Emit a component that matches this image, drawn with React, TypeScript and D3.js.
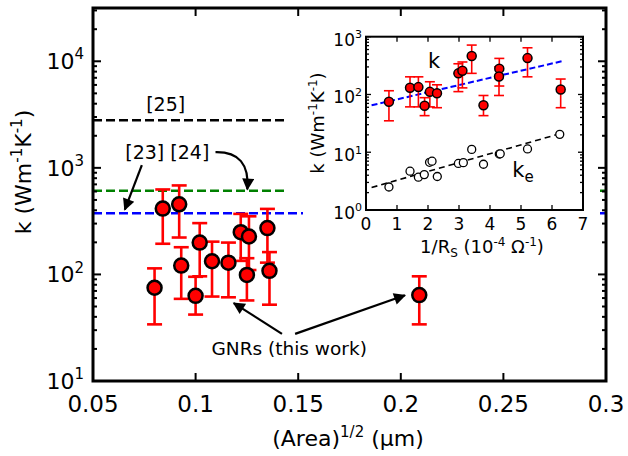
import * as d3 from "d3";
import { useEffect, useRef } from "react";

// main panel: k against sqrt(area)
const areaRoot = [0.080, 0.084, 0.092, 0.093, 0.100, 0.102, 0.108, 0.116, 0.122, 0.126, 0.125, 0.135, 0.136, 0.209];
const kMain = [75, 415, 455, 121, 63, 199, 133, 129, 249, 227, 99, 272, 108, 64];
const kMainHi = [114, 627, 684, 180, 95, 303, 203, 199, 370, 351, 142, 412, 162, 96];
const kMainLo = [34, 194, 222, 59, 42, 96, 62, 61, 134, 110, 57, 129, 52, 34];

// literature values (dashed lines)
const refValues = [2800, 610, 375];
const refEnd = [0.145, 0.3, 0.3];

const xTicks = [0.05, 0.1, 0.15, 0.2, 0.25, 0.3];
const xTickLabels = ["0.05", "0.1", "0.15", "0.2", "0.25", "0.3"];
const yDecades = [1, 2, 3, 4];

// inset: k and k_e against 1/Rs
const invRs = [0.74, 1.42, 1.69, 1.89, 2.06, 2.29, 2.98, 3.11, 3.41, 3.79, 4.30, 4.29, 5.21, 6.28];
const kInset = [75, 131, 134, 64, 111, 105, 232, 257, 462, 65, 280, 205, 426, 122];
const kInsetHi = [116, 202, 202, 88, 166, 147, 340, 365, 716, 96, 421, 300, 643, 185];
const kInsetLo = [35, 61, 61, 43, 61, 59, 112, 130, 232, 43, 140, 96, 202, 59];

const invRsE = [0.74, 1.42, 1.69, 1.88, 2.05, 2.13, 2.30, 2.98, 3.14, 3.41, 3.79, 4.30, 4.33, 5.21, 6.25];
const kElec = [2.5, 4.7, 3.7, 4.1, 6.7, 7.0, 3.8, 6.4, 6.6, 11.2, 6.2, 9.3, 9.4, 11.4, 20.4];

const fitX = [0.18, 6.4];
const fitK = [65, 385];
const fitXe = [0.18, 6.2];
const fitKe = [2.45, 20.5];

const insetXTicks = [0, 1, 2, 3, 4, 5, 6, 7];
const insetDecades = [0, 1, 2, 3];

const FONT = "DejaVu Sans, Verdana, sans-serif";

function powLabel(g, x, y, exp, size, supSize, anchor) {
	const t = g.append("text")
		.attr("x", x)
		.attr("y", y)
		.attr("text-anchor", anchor)
		.style("font-size", size + "px");
	t.append("tspan").text("10");
	t.append("tspan").attr("dy", -size * 0.45).style("font-size", supSize + "px").text(exp);
	return t;
}

const App = () => {
	const ref = useRef(null);

	useEffect(() => {
		const svg = d3.select(ref.current);
		svg.selectAll("*").remove();
		svg.style("font-family", FONT);

		const x = d3.scaleLinear().domain([0.05, 0.3]).range([93, 606]);
		const y = d3.scaleLog().domain([10, Math.pow(10, 4.5)]).range([381, 8]);

		const defs = svg.append("defs");
		defs.append("marker")
			.attr("id", "ah")
			.attr("viewBox", "0 0 10 10")
			.attr("refX", 9)
			.attr("refY", 5)
			.attr("markerUnits", "userSpaceOnUse")
			.attr("markerWidth", 15)
			.attr("markerHeight", 12)
			.attr("orient", "auto")
			.append("path")
			.attr("d", "M0,0 L10,5 L0,10 z")
			.attr("fill", "#000");

		// dashed reference lines
		const refColors = ["#000000", "#008000", "#0000ff"];
		refValues.forEach((v, i) => {
			svg.append("line")
				.attr("x1", x(0.05)).attr("x2", x(refEnd[i]))
				.attr("y1", y(v)).attr("y2", y(v))
				.attr("stroke", refColors[i])
				.attr("stroke-width", 2.5)
				.attr("stroke-dasharray", "9,4");
		});

		// ---------------- inset ----------------
		const ix = d3.scaleLinear().domain([0, 7]).range([366, 583]);
		const iy = d3.scaleLog().domain([1, 1000]).range([210, 36.7]);

		svg.append("path")
			.attr("d", "M288,18 L596,18 L596,262 L303,262 L303,203 L288,203 Z")
			.attr("fill", "#fff");

		// fits
		svg.append("line")
			.attr("x1", ix(fitXe[0])).attr("y1", iy(fitKe[0]))
			.attr("x2", ix(fitXe[1])).attr("y2", iy(fitKe[1]))
			.attr("stroke", "#000").attr("stroke-width", 1.6)
			.attr("stroke-dasharray", "6,4");
		svg.append("line")
			.attr("x1", ix(fitX[0])).attr("y1", iy(fitK[0]))
			.attr("x2", ix(fitX[1])).attr("y2", iy(fitK[1]))
			.attr("stroke", "#0000ff").attr("stroke-width", 2)
			.attr("stroke-dasharray", "6,3");

		// k_e open circles
		svg.selectAll(".ke")
			.data(invRsE)
			.enter()
			.append("circle")
			.attr("cx", d => ix(d))
			.attr("cy", (d, i) => iy(kElec[i]))
			.attr("r", 4)
			.attr("fill", "#fff")
			.attr("stroke", "#000")
			.attr("stroke-width", 1.3);

		// k error bars
		const ieb = svg.append("g").attr("stroke", "#ff0000").attr("stroke-width", 1.6);
		invRs.forEach((d, i) => {
			const cx = ix(d);
			ieb.append("line").attr("x1", cx).attr("x2", cx).attr("y1", iy(kInsetLo[i])).attr("y2", iy(kInsetHi[i]));
			ieb.append("line").attr("x1", cx - 5).attr("x2", cx + 5).attr("y1", iy(kInsetLo[i])).attr("y2", iy(kInsetLo[i]));
			ieb.append("line").attr("x1", cx - 5).attr("x2", cx + 5).attr("y1", iy(kInsetHi[i])).attr("y2", iy(kInsetHi[i]));
		});
		svg.selectAll(".kin")
			.data(invRs)
			.enter()
			.append("circle")
			.attr("cx", d => ix(d))
			.attr("cy", (d, i) => iy(kInset[i]))
			.attr("r", 4.5)
			.attr("fill", "#ff0000")
			.attr("stroke", "#000")
			.attr("stroke-width", 1.5);

		// inset frame and ticks
		const ig = svg.append("g").attr("stroke", "#000").attr("stroke-width", 1.3);
		insetXTicks.slice(1, -1).forEach(t => {
			ig.append("line").attr("x1", ix(t)).attr("x2", ix(t)).attr("y1", 210).attr("y2", 205);
			ig.append("line").attr("x1", ix(t)).attr("x2", ix(t)).attr("y1", 36.7).attr("y2", 41.7);
		});
		iy.ticks().forEach(t => {
			const major = Math.abs(Math.log10(t) - Math.round(Math.log10(t))) < 1e-6;
			const len = major ? 5 : 3;
			ig.append("line").attr("x1", 366).attr("x2", 366 + len).attr("y1", iy(t)).attr("y2", iy(t));
			ig.append("line").attr("x1", 583).attr("x2", 583 - len).attr("y1", iy(t)).attr("y2", iy(t));
		});
		svg.append("rect")
			.attr("x", 366).attr("y", 36.7)
			.attr("width", 583 - 366).attr("height", 210 - 36.7)
			.attr("fill", "none").attr("stroke", "#000").attr("stroke-width", 2);

		insetXTicks.forEach(t => {
			svg.append("text")
				.attr("x", ix(t)).attr("y", 230)
				.attr("text-anchor", "middle")
				.style("font-size", "17px")
				.text(t);
		});
		insetDecades.forEach(e => {
			powLabel(svg, 362, iy(Math.pow(10, e)) + 9, String(e), 17, 11, "end");
		});

		const iyl = svg.append("text")
			.attr("transform", "translate(324,123) rotate(-90)")
			.attr("text-anchor", "middle")
			.style("font-size", "18px");
		iyl.append("tspan").text("k (Wm");
		iyl.append("tspan").attr("dy", -7).style("font-size", "12px").text("-1");
		iyl.append("tspan").attr("dy", 7).text("K");
		iyl.append("tspan").attr("dy", -7).style("font-size", "12px").text("-1");
		iyl.append("tspan").attr("dy", 7).text(")");

		const ixl = svg.append("text")
			.attr("x", 482).attr("y", 253)
			.attr("text-anchor", "middle")
			.style("font-size", "18px");
		ixl.append("tspan").text("1/R");
		ixl.append("tspan").attr("dy", 4).style("font-size", "12px").text("S");
		ixl.append("tspan").attr("dy", -4).text(" (10");
		ixl.append("tspan").attr("dy", -7).style("font-size", "12px").text("-4");
		ixl.append("tspan").attr("dy", 7).text(" \u03A9");
		ixl.append("tspan").attr("dy", -7).style("font-size", "12px").text("-1");
		ixl.append("tspan").attr("dy", 7).text(")");

		svg.append("text")
			.attr("x", ix(2.0)).attr("y", iy(290))
			.style("font-size", "21px")
			.text("k");
		const kel = svg.append("text")
			.attr("x", ix(4.72)).attr("y", iy(3.7))
			.style("font-size", "21px");
		kel.append("tspan").text("k");
		kel.append("tspan").attr("dy", 5).style("font-size", "15px").text("e");

		// ---------------- main data ----------------
		const eb = svg.append("g").attr("stroke", "#ff0000").attr("stroke-width", 2.6);
		areaRoot.forEach((d, i) => {
			const cx = x(d);
			eb.append("line").attr("x1", cx).attr("x2", cx).attr("y1", y(kMainLo[i])).attr("y2", y(kMainHi[i]));
			eb.append("line").attr("x1", cx - 7.5).attr("x2", cx + 7.5).attr("y1", y(kMainLo[i])).attr("y2", y(kMainLo[i]));
			eb.append("line").attr("x1", cx - 7.5).attr("x2", cx + 7.5).attr("y1", y(kMainHi[i])).attr("y2", y(kMainHi[i]));
		});
		svg.selectAll(".kmain")
			.data(areaRoot)
			.enter()
			.append("circle")
			.attr("cx", d => x(d))
			.attr("cy", (d, i) => y(kMain[i]))
			.attr("r", 7)
			.attr("fill", "#ff0000")
			.attr("stroke", "#000")
			.attr("stroke-width", 2.5);

		// annotations
		svg.append("text")
			.attr("x", x(0.0854)).attr("y", y(3430))
			.attr("text-anchor", "middle")
			.style("font-size", "19px")
			.text("[25]");
		svg.append("text")
			.attr("x", x(0.0862)).attr("y", y(1205))
			.attr("text-anchor", "middle")
			.style("font-size", "19px")
			.text("[23] [24]");
		svg.append("line")
			.attr("x1", x(0.0738)).attr("y1", y(1059))
			.attr("x2", x(0.0655)).attr("y2", y(405))
			.attr("stroke", "#000").attr("stroke-width", 2.2)
			.attr("marker-end", "url(#ah)");
		svg.append("path")
			.attr("d", `M${x(0.1097)},${y(1403)} Q${x(0.1267)},${y(1425)} ${x(0.1252)},${y(628)}`)
			.attr("fill", "none")
			.attr("stroke", "#000").attr("stroke-width", 2.2)
			.attr("marker-end", "url(#ah)");

		svg.append("text")
			.attr("x", x(0.1456)).attr("y", y(17.6))
			.attr("text-anchor", "middle")
			.style("font-size", "18.5px")
			.text("GNRs (this work)");
		svg.append("line")
			.attr("x1", x(0.1421)).attr("y1", y(27.7))
			.attr("x2", x(0.1186)).attr("y2", y(53.8))
			.attr("stroke", "#000").attr("stroke-width", 2.2)
			.attr("marker-end", "url(#ah)");
		svg.append("line")
			.attr("x1", x(0.1485)).attr("y1", y(27.7))
			.attr("x2", x(0.202)).attr("y2", y(63.7))
			.attr("stroke", "#000").attr("stroke-width", 2.2)
			.attr("marker-end", "url(#ah)");

		// ---------------- main frame ----------------
		const tg = svg.append("g").attr("stroke", "#000").attr("stroke-width", 2);
		xTicks.slice(1, -1).forEach(t => {
			tg.append("line").attr("x1", x(t)).attr("x2", x(t)).attr("y1", 381).attr("y2", 373);
			tg.append("line").attr("x1", x(t)).attr("x2", x(t)).attr("y1", 8).attr("y2", 16);
		});
		y.ticks().forEach(t => {
			const major = Math.abs(Math.log10(t) - Math.round(Math.log10(t))) < 1e-6;
			const len = major ? 8 : 4;
			tg.append("line").attr("x1", 93).attr("x2", 93 + len).attr("y1", y(t)).attr("y2", y(t));
			tg.append("line").attr("x1", 606).attr("x2", 606 - len).attr("y1", y(t)).attr("y2", y(t));
		});
		svg.append("rect")
			.attr("x", 93).attr("y", 8)
			.attr("width", 606 - 93).attr("height", 381 - 8)
			.attr("fill", "none").attr("stroke", "#000").attr("stroke-width", 3);

		xTicks.forEach((t, i) => {
			svg.append("text")
				.attr("x", x(t)).attr("y", 412)
				.attr("text-anchor", "middle")
				.style("font-size", "23px")
				.text(xTickLabels[i]);
		});
		yDecades.forEach(e => {
			powLabel(svg, 84, y(Math.pow(10, e)) + 8, String(e), 22, 15, "end");
		});

		const yl = svg.append("text")
			.attr("transform", "translate(31,172) rotate(-90)")
			.attr("text-anchor", "middle")
			.style("font-size", "22px");
		yl.append("tspan").text("k (Wm");
		yl.append("tspan").attr("dy", -9).style("font-size", "15px").text("-1");
		yl.append("tspan").attr("dy", 9).text("K");
		yl.append("tspan").attr("dy", -9).style("font-size", "15px").text("-1");
		yl.append("tspan").attr("dy", 9).text(")");

		const xl = svg.append("text")
			.attr("x", 348).attr("y", 446)
			.attr("text-anchor", "middle")
			.style("font-size", "22px");
		xl.append("tspan").text("(Area)");
		xl.append("tspan").attr("dy", -9).style("font-size", "15px").text("1/2");
		xl.append("tspan").attr("dy", 9).text(" (\u00B5m)");
	}, []);

	return (
		<svg ref={ref} width={628} height={456}
			style={{ position: "absolute", left: 0, top: 0, background: "#fff" }} />
	);
};

export default App;
